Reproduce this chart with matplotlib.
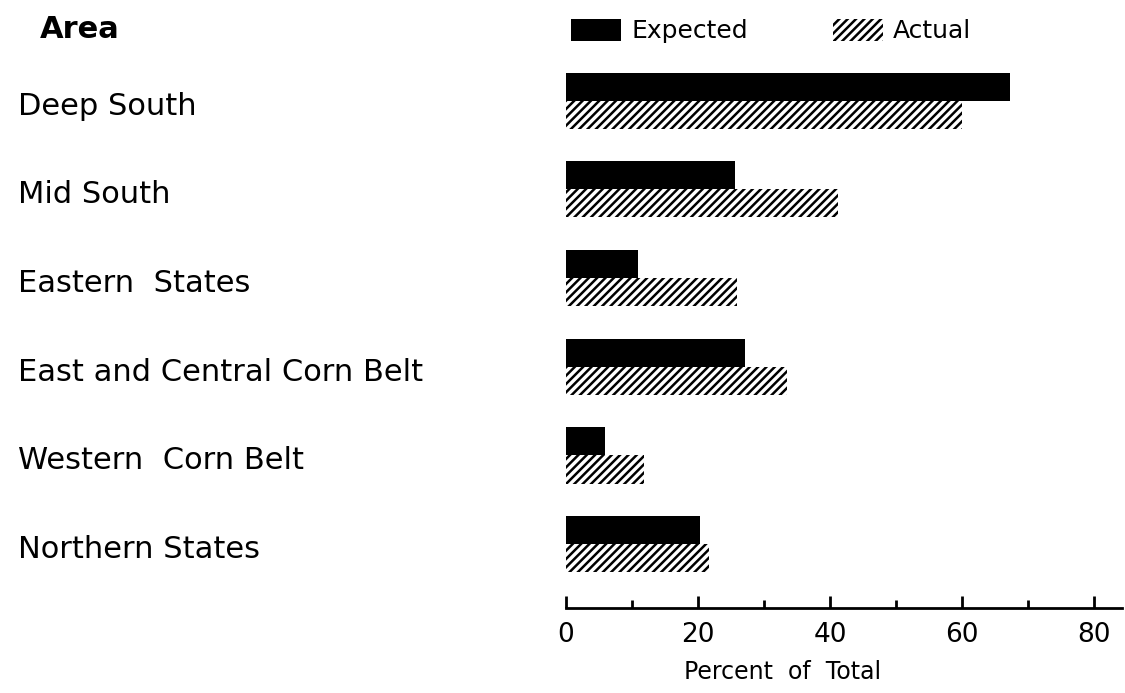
import numpy as np
import matplotlib
matplotlib.use('Agg')
import matplotlib.pyplot as plt
from matplotlib import transforms

plt.rcParams['font.family'] = ['DejaVu Sans']
plt.rcParams['hatch.linewidth'] = 1.8

areas = ['Deep South', 'Mid South', 'Eastern  States', 'East and Central Corn Belt',
         'Western  Corn Belt', 'Northern States']
expected = [67.3, 25.6, 10.9, 27.1, 5.9, 20.3]
actual = [60.0, 41.2, 25.9, 33.5, 11.8, 21.7]
ticks = [0, 20, 40, 60, 80]

fig = plt.figure(figsize=(11.25, 6.93), dpi=100)
# axes: x from px 566 to 1122, y from px 60 to 608
ax = fig.add_axes([566 / 1125, 1 - 608 / 693, 556 / 1125, 548 / 693])

y = np.arange(len(areas))
h = 0.316
b1 = ax.barh(y - h / 2, expected, height=h, color='black', edgecolor='black', linewidth=0,
             label='Expected')
b2 = ax.barh(y + h / 2, actual, height=h, color='white', edgecolor='black', linewidth=0,
             hatch='////', label='Actual')

ax.set_xlim(0, 84.2)
ax.set_ylim(5.72, -0.46)

for s in ['top', 'right', 'left']:
    ax.spines[s].set_visible(False)
ax.spines['bottom'].set_linewidth(2)
ax.set_yticks([])
ax.set_xticks(ticks)
ax.set_xticks([10, 30, 50, 70], minor=True)
ax.tick_params(axis='x', which='major', direction='in', length=9, width=2, labelsize=19, pad=10)
ax.tick_params(axis='x', which='minor', direction='in', length=6, width=2)
ax.set_xlabel('Percent  of  Total', fontsize=17)
ax.xaxis.set_label_coords(0.39, -0.095)

trans = transforms.blended_transform_factory(fig.transFigure, ax.transData)
for i, name in enumerate(areas):
    ax.text(18 / 1125, i + 0.06, name, transform=trans, fontsize=22, va='center', ha='left')
fig.text(40 / 1125, 1 - 30 / 693, 'Area', fontsize=22, fontweight='bold', va='center', ha='left')

ax.legend(handles=[b1, b2], labels=['Expected', 'Actual'], ncol=2, frameon=False,
          fontsize=18, handlelength=2.0, handleheight=1.0, handletextpad=0.4,
          columnspacing=3.4, loc='center left',
          bbox_to_anchor=(571 / 1125, 1 - 31 / 693), bbox_transform=fig.transFigure,
          borderaxespad=0, borderpad=0)

fig.savefig('out.png', dpi=100)
